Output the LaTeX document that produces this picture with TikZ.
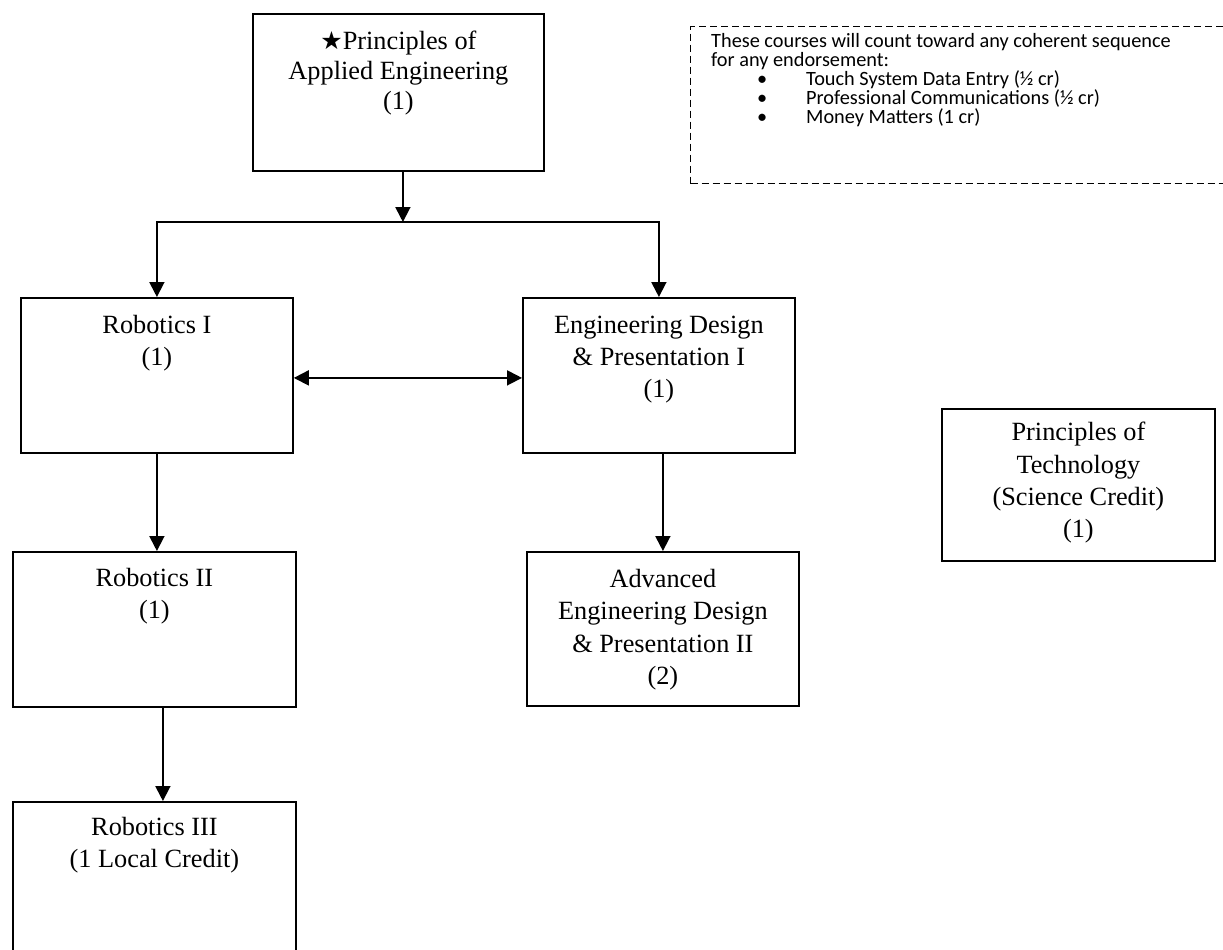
\documentclass[tikz,border=0pt]{standalone}
\usepackage{fontspec}
\setmainfont{Liberation Serif}
\newfontfamily\calibri{Carlito}
\newfontfamily\symb{DejaVu Sans}
\usetikzlibrary{arrows.meta}

\tikzset{
  course/.style={draw, line width=1.8pt, inner sep=0pt, fill=white},
  coursetext/.style={anchor=north, inner sep=0pt, align=center,
    font=\fontsize{26.3pt}{32.3pt}\selectfont},
  notebox/.style={draw, line width=1.3pt, dash pattern=on 7pt off 4pt, inner sep=0pt},
  notetext/.style={anchor=north west, inner sep=0pt, align=left,
    font=\calibri\fontsize{20.3pt}{18.9pt}\selectfont},
  link/.style={line width=1.8pt, line join=miter},
  arr/.style={link, -{Triangle[length=15pt,width=15pt]}},
  dblarr/.style={link, {Triangle[length=15pt,width=15pt]}-{Triangle[length=15pt,width=15pt]}}
}

% course box from its top-left (#2,#3) to bottom-right (#4,#5), in pixels
\newcommand{\coursebox}[5]{%
  \node[course, minimum width={(#4-#2)*1pt}, minimum height={(#5-#3)*1pt},
        anchor=north west] (#1) at (#2,#3) {};}

\begin{document}
\begin{tikzpicture}[x=1pt, y=-1pt]
\useasboundingbox (0,0) rectangle (1223,950);
\clip (0,0) rectangle (1223,950);

% course boxes
\coursebox{pae}{252}{13}{543}{170}
\coursebox{r1}{20}{297}{292}{452}
\coursebox{ed}{522}{297}{794}{452}
\coursebox{r2}{12}{551}{295}{706}
\coursebox{adv}{526}{551}{798}{705}
\coursebox{r3}{12}{801}{295}{965}
\coursebox{pot}{941}{408}{1214}{560}

% course titles
\node[coursetext, font=\fontsize{26.3pt}{30pt}\selectfont] (paeT) at ([yshift=-18pt]pae.north)
  {{\symb\fontsize{25pt}{25pt}\selectfont ★}Principles of\\Applied Engineering\\(1)};
\node[coursetext] (r1T) at ([yshift=-18pt]r1.north) {Robotics I\\(1)};
\node[coursetext] (edT) at ([yshift=-18.5pt]ed.north)
  {Engineering Design\\\& Presentation I\\(1)};
\node[coursetext] (r2T) at ([yshift=-17pt]r2.north) {Robotics II\\(1)};
\node[coursetext] (advT) at ([yshift=-18pt]adv.north)
  {Advanced\\Engineering Design\\\& Presentation II\\(2)};
\node[coursetext] (r3T) at ([yshift=-16pt]r3.north) {Robotics III\\(1 Local Credit)};
\node[coursetext] (potT) at ([yshift=-14pt]pot.north)
  {Principles of\\Technology\\(Science Credit)\\(1)};

% note on courses that count for every endorsement
\node[notebox, minimum width=545pt, minimum height=157pt, anchor=north west]
  (note) at (690,26) {};
\node[notetext] (noteT) at (711,33.5)
  {These courses will count toward any coherent sequence\\
   for any endorsement:\\
   \hspace*{46pt}\makebox[49pt][l]{•}Touch System Data Entry (½ cr)\\
   \hspace*{46pt}\makebox[49pt][l]{•}Professional Communications (½ cr)\\
   \hspace*{46pt}\makebox[49pt][l]{•}Money Matters (1 cr)};

% connectors
\coordinate (split) at (402,222);
\draw[arr] ([xshift=4.5pt]pae.south) -- ([xshift=4.5pt]pae.south |- split);
\draw[dblarr] (r1.north) -- (r1.north |- split) -- (ed.north |- split) -- (ed.north);
\draw[dblarr] ([yshift=-2.5pt]r1.east) -- ([yshift=-2.5pt]ed.west);
\draw[arr] (r1.south) -- (r1.south |- r2.north);
\draw[arr] (adv.north |- ed.south) -- (adv.north);
\draw[arr] ([xshift=8.5pt]r2.south) -- ([xshift=8.5pt]r3.north);
\end{tikzpicture}
\end{document}
